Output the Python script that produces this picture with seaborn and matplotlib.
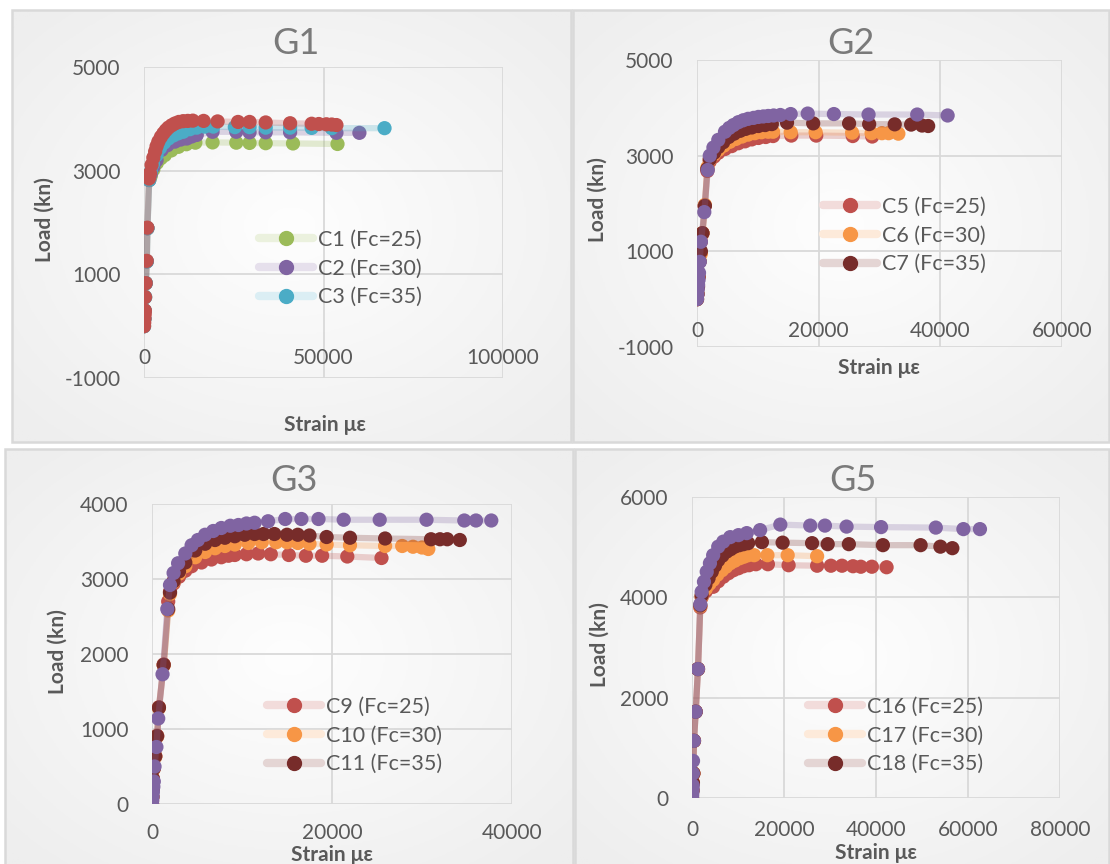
import matplotlib
matplotlib.use("Agg")
import matplotlib.pyplot as plt
import matplotlib.colors as mcolors
from matplotlib.lines import Line2D
from matplotlib.patches import Rectangle
from matplotlib.ticker import StrMethodFormatter
import numpy as np
import seaborn as sns
import pandas as pd

# ---- data (strain in micro-strain, load in kN) ----
g1_c1_strain = [0, 100, 200, 300, 500, 780, 950, 1450, 1900, 2600, 3600, 4700, 5800, 7600, 9600, 11800, 14300,
                19100, 25700, 29400, 33900, 41500, 53900]
g1_c1_load = [0, 140, 300, 560, 830, 1250, 1890, 2820, 2900, 3020, 3150, 3240, 3300, 3390, 3460, 3510, 3540,
              3545, 3540, 3535, 3530, 3525, 3515]
g1_c2_strain = [0, 100, 200, 300, 500, 780, 950, 1450, 1900, 2600, 3500, 4900, 6500, 8600, 10200, 11900, 13300,
                14700, 19100, 25700, 29400, 33900, 40700, 53600, 60000]
g1_c2_load = [0, 140, 300, 560, 830, 1250, 1890, 2820, 2940, 3070, 3200, 3400, 3490, 3560, 3600, 3620, 3660,
              3690, 3750, 3750, 3740, 3740, 3740, 3730, 3730]
g1_c3_strain = [0, 100, 200, 300, 500, 780, 950, 1450, 1900, 2500, 3500, 4500, 5600, 6800, 8200, 9500, 10900,
                12800, 14700, 16900, 19300, 25300, 29400, 33900, 40700, 46700, 52300, 67000]
g1_c3_load = [0, 140, 300, 560, 830, 1250, 1890, 2820, 2980, 3130, 3300, 3440, 3540, 3620, 3680, 3720, 3750,
              3800, 3830, 3850, 3850, 3840, 3840, 3830, 3830, 3825, 3820, 3820]
g1_c4_strain = [0, 60, 130, 200, 240, 280, 470, 750, 920, 1400, 1700, 2100, 2600, 3100, 3500, 4000, 4700, 5400,
                6100, 6800, 7700, 8600, 9700, 10900, 12200, 13600, 16600, 20500, 26200, 29400, 33900, 40700,
                46700, 48700, 50800, 52300, 53600]
g1_c4_load = [0, 70, 150, 230, 300, 560, 830, 1260, 1900, 2850, 2950, 3110, 3250, 3370, 3470, 3560, 3650, 3720,
              3780, 3830, 3875, 3910, 3940, 3955, 3960, 3965, 3960, 3950, 3940, 3940, 3930, 3915,
              3905, 3900, 3895, 3890, 3880]

g2_c5_strain = [0, 80, 160, 250, 400, 640, 900, 1250, 1700, 2100, 2800, 3500, 4600, 5700, 6800, 7900, 9000,
                10100, 11300, 12500, 15500, 19600, 25600, 28800]
g2_c5_load = [0, 100, 250, 450, 780, 1200, 1380, 1950, 2680, 2880, 2980, 3060, 3140, 3200, 3260, 3300, 3340,
              3370, 3390, 3410, 3420, 3420, 3410, 3400]
g2_c6_strain = [0, 80, 160, 250, 420, 640, 900, 1300, 1700, 2100, 2800, 3500, 4400, 5400, 6400, 7400, 8400,
                9500, 10600, 11700, 12500, 15400, 19500, 25500, 28700, 30400, 31500, 33100]
g2_c6_load = [0, 120, 270, 480, 800, 950, 1380, 1970, 2750, 2920, 3030, 3120, 3210, 3290, 3350, 3400, 3440,
              3470, 3490, 3500, 3500, 3490, 3490, 3480, 3470, 3470, 3470, 3460]
g2_c7_strain = [0, 80, 160, 250, 420, 640, 900, 1300, 1700, 2100, 2800, 3500, 4300, 5200, 6100, 7100, 8000,
                9000, 10100, 11200, 12300, 14800, 19100, 25000, 28300, 32500, 35200, 37000, 38000]
g2_c7_load = [0, 110, 260, 470, 790, 1000, 1380, 1950, 2720, 2930, 3060, 3180, 3280, 3390, 3460, 3520, 3560,
              3590, 3620, 3640, 3660, 3690, 3675, 3675, 3660, 3655, 3650, 3630, 3620]
g2_c8_strain = [0, 60, 120, 180, 250, 330, 460, 640, 1200, 1760, 2100, 2700, 3500, 4600, 5300, 6000, 6800,
                7600, 8400, 9300, 10100, 10900, 11700, 12600, 13700, 15400, 18200, 22500, 28200, 36200, 41200]
g2_c8_load = [0, 100, 200, 300, 400, 550, 780, 1200, 1820, 2700, 3000, 3170, 3330, 3500, 3580, 3640, 3700,
              3740, 3770, 3790, 3810, 3820, 3830, 3840, 3850, 3870, 3880, 3870, 3860, 3860, 3840]

g3_c9_strain = [0, 40, 80, 100, 200, 360, 570, 770, 1300, 1800, 2000, 2400, 3000, 3700, 4400, 5500, 6600,
                7700, 8500, 9200, 10500, 11800, 13200, 15200, 17100, 18900, 21700, 25500]
g3_c9_load = [0, 100, 200, 340, 480, 640, 910, 1290, 1860, 2700, 2830, 2940, 3030, 3110, 3170, 3220, 3260,
              3290, 3310, 3320, 3330, 3340, 3330, 3320, 3310, 3310, 3300, 3280]
g3_c10_strain = [0, 40, 80, 100, 200, 360, 570, 770, 1300, 1800, 2000, 2400, 3000, 3700, 4800, 5900, 7000,
                 8100, 9200, 10700, 12200, 13800, 15000, 16200, 17500, 19400, 22000, 25900, 27800, 29000,
                 30000, 30700]
g3_c10_load = [0, 90, 190, 330, 470, 630, 900, 1280, 1850, 2580, 2800, 2960, 3070, 3170, 3290, 3360, 3410,
               3440, 3460, 3480, 3490, 3490, 3490, 3480, 3470, 3460, 3450, 3440, 3440, 3430,
               3420, 3400]
g3_c11_strain = [0, 40, 80, 100, 200, 360, 570, 770, 1300, 1800, 2000, 2400, 3000, 3700, 4800, 5900, 7000,
                 8100, 9200, 10300, 11400, 12400, 13600, 15000, 16200, 17500, 19400, 22000, 25900, 31000,
                 32000, 32800, 34200]
g3_c11_load = [0, 95, 195, 335, 475, 635, 905, 1285, 1855, 2600, 2820, 2970, 3100, 3220, 3380, 3470, 3520,
               3550, 3570, 3590, 3600, 3600, 3600, 3590, 3590, 3580, 3560, 3550, 3540, 3530,
               3530, 3530, 3520]
g3_c12_strain = [0, 30, 60, 100, 150, 200, 280, 490, 690, 1170, 1700, 2000, 2400, 2900, 3700, 4400, 5100,
                 5900, 6800, 7700, 8700, 9600, 10500, 11400, 12900, 14800, 16600, 18500, 21300, 25300,
                 30500, 34700, 36000, 37700]
g3_c12_load = [0, 50, 100, 160, 230, 300, 500, 760, 1140, 1730, 2600, 2920, 3080, 3210, 3340, 3450, 3520,
               3590, 3640, 3680, 3710, 3720, 3740, 3750, 3770, 3800, 3800, 3800, 3790, 3790,
               3790, 3780, 3780, 3780]

g5_c16_strain = [0, 100, 200, 300, 430, 800, 1300, 1800, 2100, 3000, 4600, 5700, 6800, 7900, 9000, 10100,
                 11200, 12400, 13900, 16500, 21000, 27200, 30200, 32600, 35000, 36700, 39100, 42300]
g5_c16_load = [0, 150, 300, 490, 1140, 1720, 2570, 3800, 4000, 4120, 4210, 4320, 4410, 4480, 4540, 4580,
               4620, 4640, 4660, 4660, 4640, 4630, 4630, 4630, 4620, 4610, 4610, 4600]
g5_c17_strain = [0, 100, 200, 300, 430, 800, 1300, 1800, 2100, 3000, 3800, 4600, 5500, 6500, 7400, 8300,
                 9300, 10400, 11300, 12200, 13500, 16400, 20800, 27200]
g5_c17_load = [0, 150, 300, 490, 1140, 1720, 2570, 3820, 4020, 4170, 4270, 4350, 4450, 4540, 4610, 4680,
               4730, 4780, 4810, 4840, 4840, 4840, 4840, 4820]
g5_c18_strain = [0, 100, 200, 300, 430, 800, 1300, 1800, 2100, 2900, 3600, 4300, 5000, 5700, 6600, 7500,
                 8400, 9300, 10300, 11200, 12200, 15200, 19700, 26100, 29500, 34100, 41500, 49700, 54000, 56600]
g5_c18_load = [0, 150, 300, 490, 1140, 1720, 2570, 3840, 4040, 4250, 4380, 4510, 4630, 4740, 4830, 4910,
               4960, 5010, 5040, 5060, 5080, 5100, 5090, 5080, 5060, 5060, 5040, 5040, 5010, 4980]
g5_c19_strain = [0, 40, 80, 120, 160, 200, 220, 430, 800, 1300, 1800, 2100, 2600, 3200, 3900, 4600, 5700,
                 6800, 8300, 10100, 11900, 14800, 19200, 25700, 28900, 33600, 41100, 53000, 59000, 62600]
g5_c19_load = [0, 60, 120, 180, 250, 490, 740, 1140, 1720, 2570, 3860, 4110, 4310, 4510, 4680, 4840, 5010,
               5110, 5200, 5240, 5280, 5340, 5450, 5430, 5430, 5410, 5400, 5390, 5360, 5360]

g1_labels = ["C1 (Fc=25)", "C2 (Fc=30)", "C3 (Fc=35)"]
g2_labels = ["C5 (Fc=25)", "C6 (Fc=30)", "C7 (Fc=35)"]
g3_labels = ["C9 (Fc=25)", "C10 (Fc=30)", "C11 (Fc=35)"]
g5_labels = ["C16 (Fc=25)", "C17 (Fc=30)", "C18 (Fc=35)"]

RED = "#C0504D"
GREEN = "#9BBB59"
PURPLE = "#8064A2"
TEAL = "#4BACC6"
ORANGE = "#F79646"
DARKRED = "#772C2A"
GREY = "#595959"

W, H = 1110, 864

sns.set_style("white")
plt.rcParams["font.family"] = ["Lato", "DejaVu Sans"]
plt.rcParams["axes.unicode_minus"] = False


def fx(x):
    return x / W


def fy(y):
    return 1 - y / H


def pale(c, f=0.8):
    r, g, b = mcolors.to_rgb(c)
    return (r + (1 - r) * f, g + (1 - g) * f, b + (1 - b) * f)


def draw_panel(ax, series, xlim, xticks, ylim, yticks, labels, leg_xy, xpad=16):
    for i, (strain, load, color) in enumerate(series):
        df = pd.DataFrame({"strain": strain, "load": load})
        sns.lineplot(data=df, x="strain", y="load", sort=False, estimator=None, color=color,
                     lw=4.5, alpha=0.25, ax=ax, zorder=2 + 2 * i)
        sns.scatterplot(data=df, x="strain", y="load", color=color, s=105, edgecolor="none",
                        ax=ax, zorder=3 + 2 * i)
    ax.set_xlim(*xlim)
    ax.set_ylim(*ylim)
    ax.set_xticks(xticks)
    ax.set_yticks(yticks)
    ax.xaxis.set_major_formatter(StrMethodFormatter("{x:.0f}"))
    ax.yaxis.set_major_formatter(StrMethodFormatter("{x:.0f}"))
    ax.set_facecolor("none")
    ax.grid(True, color="#d9d9d9", lw=1.3)
    ax.set_axisbelow(True)
    for s in ax.spines.values():
        s.set_visible(False)
    ax.spines["bottom"].set_position(("data", 0))
    ax.tick_params(axis="x", length=0, labelsize=15, labelcolor=GREY, pad=xpad)
    ax.tick_params(axis="y", length=0, labelsize=15, labelcolor=GREY, pad=17)
    ax.set_xlabel("")
    ax.set_ylabel("")
    handles = [Line2D([0], [0], color=pale(c), lw=6, marker="o", markersize=10,
                      markerfacecolor=c, markeredgecolor=c) for _, _, c in series[:3]]
    ax.legend(handles, labels, loc="upper left", bbox_to_anchor=(fx(leg_xy[0]), fy(leg_xy[1])),
              bbox_transform=ax.figure.transFigure, frameon=False, fontsize=15.5, labelcolor=GREY,
              handlelength=2.5, handletextpad=0.25, labelspacing=0.4, borderpad=0, borderaxespad=0)


fig = plt.figure(figsize=(W / 100, H / 100), dpi=100)

# chart panels: soft radial background with a thin border
gy, gx = np.mgrid[-1:1:200j, -1:1:200j]
glow = np.clip(np.sqrt(gx ** 2 + gy ** 2) / 1.35, 0, 1)
bg_cmap = mcolors.LinearSegmentedColormap.from_list("bg", ["#fefefe", "#eeeeee"])
for l, t, r, b in [(12, 10, 571, 442), (573, 10, 1109, 442), (5, 449, 573, 866), (575, 449, 1109, 866)]:
    bg = fig.add_axes([fx(l), fy(b), (r - l) / W, (b - t) / H], zorder=-2)
    bg.imshow(glow, cmap=bg_cmap, vmin=0, vmax=1, aspect="auto", extent=(0, 1, 0, 1))
    bg.set_axis_off()
    fig.add_artist(Rectangle((fx(l), fy(b)), (r - l) / W, (b - t) / H, transform=fig.transFigure,
                             facecolor="none", edgecolor="#d9d9d9", lw=1.8, zorder=-1))


def add_ax(l, t, r, b):
    return fig.add_axes([fx(l), fy(b), (r - l) / W, (b - t) / H])


ax1 = add_ax(144, 67, 503, 378)
draw_panel(ax1, [(g1_c1_strain, g1_c1_load, GREEN), (g1_c2_strain, g1_c2_load, PURPLE),
                 (g1_c3_strain, g1_c3_load, TEAL), (g1_c4_strain, g1_c4_load, RED)],
           (0, 100000), [0, 50000, 100000], (-1000, 5000), [-1000, 1000, 3000, 5000], g1_labels, (259, 230))

ax2 = add_ax(697, 60, 1062, 347)
draw_panel(ax2, [(g2_c5_strain, g2_c5_load, RED), (g2_c6_strain, g2_c6_load, ORANGE),
                 (g2_c7_strain, g2_c7_load, DARKRED), (g2_c8_strain, g2_c8_load, PURPLE)],
           (0, 60000), [0, 20000, 40000, 60000], (-1000, 5000), [-1000, 1000, 3000, 5000], g2_labels, (823, 197))

ax3 = add_ax(152, 504, 512, 804)
draw_panel(ax3, [(g3_c9_strain, g3_c9_load, RED), (g3_c10_strain, g3_c10_load, ORANGE),
                 (g3_c11_strain, g3_c11_load, DARKRED), (g3_c12_strain, g3_c12_load, PURPLE)],
           (0, 40000), [0, 20000, 40000], (0, 4000), [0, 1000, 2000, 3000, 4000], g3_labels, (267, 697),
           xpad=14)

ax4 = add_ax(692, 497, 1060, 798)
draw_panel(ax4, [(g5_c16_strain, g5_c16_load, RED), (g5_c17_strain, g5_c17_load, ORANGE),
                 (g5_c18_strain, g5_c18_load, DARKRED), (g5_c19_strain, g5_c19_load, PURPLE)],
           (0, 80000), [0, 20000, 40000, 60000, 80000], (0, 6000), [0, 2000, 4000, 6000], g5_labels, (808, 697))

# titles and axis titles
for name, x, y in [("G1", 296, 43), ("G2", 851, 43), ("G3", 294, 481), ("G5", 853, 481)]:
    fig.text(fx(x), fy(y), name, ha="center", va="center", fontsize=26, color="#7a7a7a")
for x, y in [(325, 425), (879, 368), (332, 855), (876, 853)]:
    fig.text(fx(x), fy(y), "Strain με", ha="center", va="center", fontsize=15, color=GREY, fontweight="bold")
for x, y in [(45, 220), (598, 200), (58, 652), (600, 645)]:
    fig.text(fx(x), fy(y), "Load (kn)", ha="center", va="center", rotation=90, fontsize=15, color=GREY,
             fontweight="bold")

fig.savefig("out.png", dpi=100)
